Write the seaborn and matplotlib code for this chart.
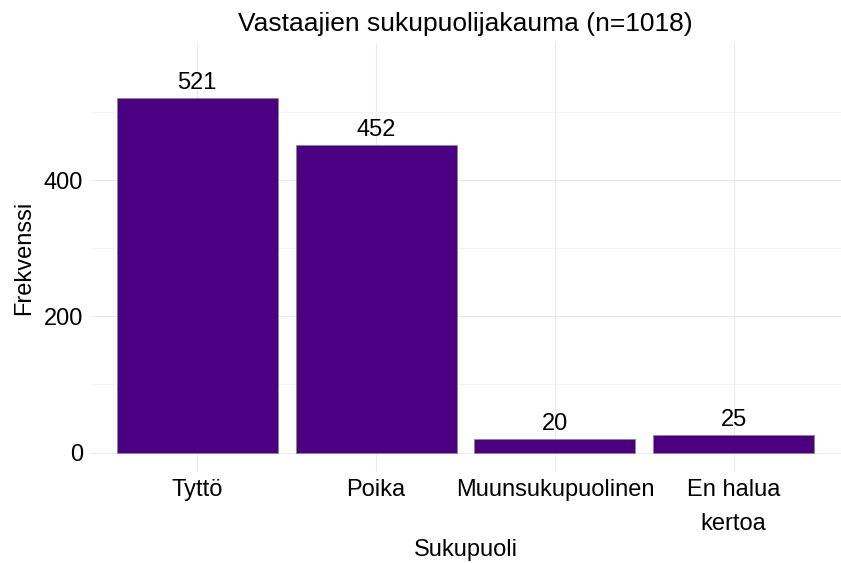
import seaborn as sns
import matplotlib.pyplot as plt
import matplotlib.ticker as mticker
import pandas as pd

categories = ['Tyttö', 'Poika', 'Muunsukupuolinen', 'En halua\nkertoa']
counts = [521, 452, 20, 25]
n_total = 1018

df = pd.DataFrame({'Sukupuoli': categories, 'Frekvenssi': counts})

sns.set_style('whitegrid')
plt.rcParams['font.family'] = ['Liberation Sans', 'DejaVu Sans']
plt.rcParams['text.color'] = 'black'
plt.rcParams['axes.labelcolor'] = 'black'

fig = plt.figure(figsize=(8.41, 5.63), dpi=100)
ax = fig.add_axes([90 / 841, 91 / 563, 751 / 841, 429 / 563])

sns.barplot(data=df, x='Sukupuoli', y='Frekvenssi', color='#4B0082', saturation=1,
            width=0.9, edgecolor='#888888', linewidth=0.6, ax=ax)

ax.set_xlim(-0.6, 3.6)
top = max(counts) * 1.1
ax.set_ylim(-0.05 * top, top * 1.05)
ax.yaxis.set_major_locator(mticker.FixedLocator([0, 200, 400]))
ax.yaxis.set_minor_locator(mticker.FixedLocator([100, 300, 500]))
ax.grid(True, which='major', color='#EBEBEB', linewidth=0.8)
ax.grid(True, which='minor', axis='y', color='#F3F3F3', linewidth=0.6)
ax.set_axisbelow(True)
for s in ax.spines.values():
    s.set_visible(False)
ax.tick_params(length=0, labelsize=17, colors='black', pad=5)
ax.tick_params(axis='x', pad=5)
for lab in ax.get_xticklabels():
    lab.set_linespacing(1.7)
    lab.set_verticalalignment('top')

ax.bar_label(ax.containers[0], labels=[str(c) for c in counts], padding=3, fontsize=17)

ax.set_title(f'Vastaajien sukupuolijakauma (n={n_total})', fontsize=19, pad=9)
ax.set_xlabel('Sukupuoli', fontsize=17, labelpad=3)
ax.set_ylabel('Frekvenssi', fontsize=17, labelpad=6)

plt.savefig('out.png', dpi=100)
